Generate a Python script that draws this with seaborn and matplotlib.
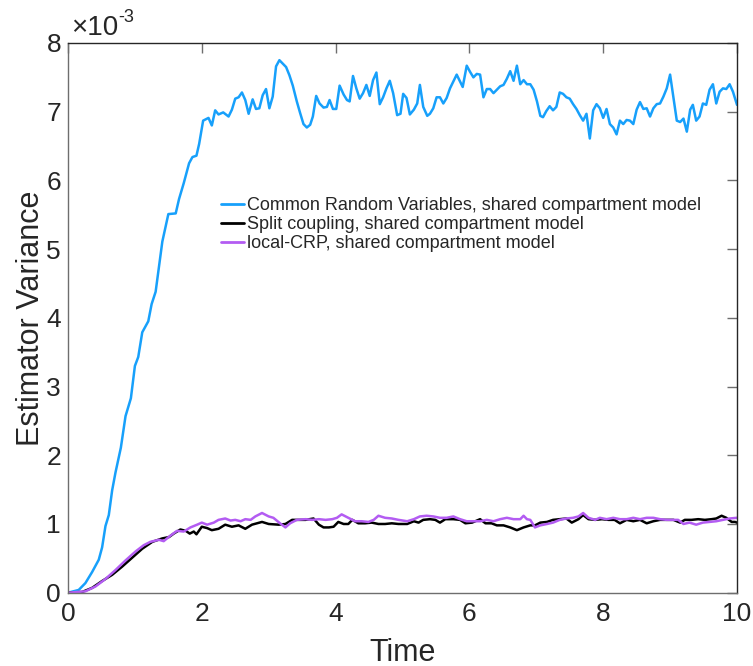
import matplotlib
matplotlib.use("Agg")
import matplotlib.pyplot as plt
import seaborn as sns
import numpy as np
import pandas as pd

# ---------------- data (variance in units of 1e-3) ----------------
t_crv = [0.00, 0.16, 0.26, 0.36, 0.46, 0.51, 0.56, 0.61, 0.66, 0.71, 0.79, 0.86, 0.94,
         1.00, 1.05, 1.11, 1.20, 1.25, 1.31, 1.41, 1.50, 1.61, 1.66, 1.73, 1.81, 1.86,
         1.92, 1.96, 2.02, 2.10, 2.15, 2.20, 2.25, 2.32, 2.40, 2.45, 2.50, 2.55, 2.60,
         2.65, 2.70, 2.76, 2.81, 2.86, 2.91, 2.96, 3.01, 3.06, 3.11, 3.16, 3.21, 3.26,
         3.31, 3.36, 3.42, 3.47, 3.52, 3.57, 3.62, 3.66, 3.71, 3.76, 3.82, 3.87, 3.91,
         3.96, 4.01, 4.06, 4.12, 4.17, 4.21, 4.26, 4.31, 4.36, 4.41, 4.46, 4.51, 4.56,
         4.61, 4.66, 4.71, 4.76, 4.81, 4.86, 4.92, 4.97, 5.01, 5.06, 5.11, 5.17, 5.22,
         5.26, 5.31, 5.37, 5.41, 5.46, 5.51, 5.56, 5.61, 5.66, 5.71, 5.76, 5.81, 5.86,
         5.90, 5.96, 6.01, 6.06, 6.11, 6.16, 6.21, 6.26, 6.31, 6.36, 6.41, 6.46, 6.51,
         6.56, 6.61, 6.66, 6.71, 6.76, 6.81, 6.86, 6.91, 6.96, 7.01, 7.06, 7.10, 7.15,
         7.20, 7.25, 7.30, 7.35, 7.40, 7.45, 7.50, 7.55, 7.60, 7.65, 7.70, 7.75, 7.80,
         7.85, 7.90, 7.95, 8.00, 8.05, 8.10, 8.15, 8.20, 8.25, 8.30, 8.35, 8.40, 8.45,
         8.50, 8.55, 8.60, 8.65, 8.70, 8.75, 8.80, 8.85, 8.90, 8.95, 9.00, 9.05, 9.10,
         9.15, 9.20, 9.25, 9.30, 9.34, 9.39, 9.44, 9.49, 9.54, 9.59, 9.64, 9.69, 9.74,
         9.79, 9.84, 9.89, 9.94, 9.99, 10.00]
var_crv = [0.00, 0.04, 0.14, 0.30, 0.48, 0.66, 0.97, 1.13, 1.49, 1.75, 2.11, 2.57, 2.83,
           3.30, 3.43, 3.79, 3.95, 4.20, 4.38, 5.11, 5.51, 5.52, 5.73, 5.96, 6.25, 6.34,
           6.36, 6.53, 6.87, 6.91, 6.80, 7.02, 6.96, 6.99, 6.93, 7.03, 7.19, 7.21, 7.28,
           7.17, 6.97, 7.18, 7.04, 7.05, 7.24, 7.33, 7.05, 7.22, 7.66, 7.75, 7.70, 7.65,
           7.53, 7.38, 7.15, 6.98, 6.82, 6.77, 6.81, 6.93, 7.23, 7.12, 7.06, 7.07, 7.17,
           7.04, 7.04, 7.38, 7.25, 7.17, 7.15, 7.52, 7.34, 7.19, 7.27, 7.39, 7.23, 7.46,
           7.57, 7.11, 7.21, 7.34, 7.45, 7.27, 6.95, 6.97, 7.26, 7.20, 6.96, 7.03, 7.12,
           7.39, 7.07, 6.94, 6.97, 7.05, 7.21, 7.21, 7.12, 7.20, 7.34, 7.44, 7.54, 7.44,
           7.36, 7.67, 7.58, 7.50, 7.55, 7.54, 7.21, 7.33, 7.33, 7.27, 7.32, 7.37, 7.39,
           7.48, 7.59, 7.45, 7.67, 7.40, 7.46, 7.40, 7.40, 7.32, 7.15, 6.94, 6.92, 7.01,
           7.08, 7.02, 7.07, 7.28, 7.26, 7.21, 7.19, 7.11, 7.04, 6.95, 6.87, 6.97, 6.61,
           7.02, 7.11, 7.05, 6.91, 7.04, 6.82, 6.77, 6.67, 6.87, 6.82, 6.88, 6.87, 6.82,
           7.03, 7.14, 7.04, 7.05, 6.93, 7.05, 7.11, 7.12, 7.22, 7.34, 7.54, 7.20, 6.87,
           6.85, 6.90, 6.71, 7.03, 7.10, 6.87, 6.93, 7.12, 7.10, 7.32, 7.40, 7.12, 7.29,
           7.34, 7.33, 7.40, 7.29, 7.13, 7.10]

t_split = [0.00, 0.21, 0.36, 0.51, 0.66, 0.81, 0.96, 1.11, 1.26, 1.41, 1.51, 1.58, 1.68,
           1.76, 1.82, 1.88, 1.92, 2.00, 2.08, 2.15, 2.25, 2.35, 2.45, 2.55, 2.65, 2.75,
           2.90, 3.00, 3.15, 3.25, 3.35, 3.45, 3.55, 3.67, 3.75, 3.82, 3.90, 3.97, 4.04,
           4.12, 4.19, 4.25, 4.34, 4.44, 4.54, 4.64, 4.74, 4.84, 4.94, 5.07, 5.17, 5.24,
           5.31, 5.41, 5.49, 5.56, 5.64, 5.76, 5.86, 5.94, 6.04, 6.16, 6.24, 6.33, 6.41,
           6.51, 6.61, 6.71, 6.81, 6.91, 6.98, 7.06, 7.16, 7.25, 7.35, 7.45, 7.53, 7.63,
           7.70, 7.78, 7.88, 7.98, 8.08, 8.17, 8.25, 8.35, 8.45, 8.55, 8.65, 8.75, 8.85,
           8.95, 9.05, 9.15, 9.22, 9.32, 9.42, 9.52, 9.62, 9.69, 9.77, 9.84, 9.92, 9.97,
           10.00]
var_split = [0.00, 0.01, 0.07, 0.17, 0.26, 0.38, 0.51, 0.64, 0.74, 0.79, 0.81, 0.86, 0.92,
             0.90, 0.86, 0.89, 0.85, 0.96, 0.94, 0.91, 0.93, 0.99, 0.96, 0.98, 0.93, 0.99,
             1.03, 1.00, 0.99, 1.00, 1.06, 1.06, 1.06, 1.08, 0.99, 0.95, 0.95, 0.96, 1.03,
             1.00, 1.00, 1.06, 1.01, 1.01, 1.02, 1.00, 1.00, 1.01, 1.00, 1.00, 1.04, 1.02,
             1.06, 1.07, 1.06, 1.02, 1.07, 1.07, 1.06, 1.01, 1.02, 1.07, 1.01, 1.01, 0.98,
             0.98, 0.95, 0.91, 0.95, 0.98, 0.98, 1.02, 1.03, 1.06, 1.07, 1.08, 1.02, 1.07,
             1.13, 1.07, 1.06, 1.07, 1.06, 1.06, 1.01, 1.06, 1.04, 1.06, 1.01, 1.04, 1.06,
             1.06, 1.06, 1.02, 1.06, 1.06, 1.07, 1.06, 1.07, 1.08, 1.12, 1.09, 1.03, 1.03,
             1.02]

t_lcrp = [0.00, 0.26, 0.41, 0.56, 0.71, 0.86, 1.01, 1.13, 1.23, 1.36, 1.43, 1.53, 1.63,
          1.73, 1.83, 1.93, 2.00, 2.08, 2.18, 2.25, 2.35, 2.43, 2.50, 2.58, 2.65, 2.73,
          2.80, 2.90, 3.00, 3.07, 3.17, 3.25, 3.32, 3.42, 3.55, 3.65, 3.75, 3.85, 3.95,
          4.02, 4.09, 4.19, 4.29, 4.39, 4.49, 4.57, 4.64, 4.74, 4.84, 4.94, 5.07, 5.17,
          5.26, 5.36, 5.46, 5.56, 5.66, 5.76, 5.86, 5.96, 6.06, 6.16, 6.26, 6.36, 6.46,
          6.56, 6.66, 6.76, 6.81, 6.86, 6.91, 6.98, 7.06, 7.16, 7.25, 7.35, 7.45, 7.55,
          7.63, 7.70, 7.78, 7.88, 7.95, 8.05, 8.15, 8.25, 8.35, 8.45, 8.55, 8.65, 8.75,
          8.85, 8.95, 9.05, 9.12, 9.20, 9.29, 9.39, 9.49, 9.59, 9.69, 9.79, 9.89, 10.00]
var_lcrp = [0.00, 0.02, 0.09, 0.20, 0.33, 0.47, 0.60, 0.69, 0.74, 0.77, 0.75, 0.83, 0.90,
            0.89, 0.95, 0.99, 1.02, 0.99, 1.02, 1.06, 1.08, 1.05, 1.06, 1.04, 1.07, 1.06,
            1.11, 1.16, 1.11, 1.09, 1.01, 0.95, 1.01, 1.06, 1.07, 1.06, 1.07, 1.06, 1.07,
            1.09, 1.14, 1.09, 1.04, 1.04, 1.03, 1.06, 1.12, 1.09, 1.08, 1.06, 1.04, 1.07,
            1.11, 1.12, 1.11, 1.09, 1.09, 1.11, 1.07, 1.04, 1.04, 1.04, 1.06, 1.04, 1.07,
            1.09, 1.07, 1.07, 1.12, 1.07, 1.06, 0.95, 0.98, 1.00, 1.02, 1.06, 1.08, 1.09,
            1.11, 1.16, 1.09, 1.06, 1.09, 1.07, 1.09, 1.07, 1.07, 1.09, 1.07, 1.09, 1.09,
            1.07, 1.06, 1.06, 1.06, 1.00, 1.02, 0.99, 1.02, 1.03, 1.04, 1.06, 1.08, 1.09]

labels = ["Common Random Variables, shared compartment model",
          "Split coupling, shared compartment model",
          "local-CRP, shared compartment model"]
colors = ["#17a0fb", "#000000", "#b35cf2"]
x_ticks = [0, 2, 4, 6, 8, 10]
y_ticks = [0, 1, 2, 3, 4, 5, 6, 7, 8]

# ---------------- style ----------------
sns.set_style("white")
plt.rcParams['font.family'] = ['Liberation Sans', 'DejaVu Sans']

fig = plt.figure(figsize=(7.53, 6.66), dpi=100)
ax = fig.add_axes([68/753, 1 - 592.7/666, (737 - 68)/753, (592.7 - 43)/666])

series = [(t_crv, var_crv), (t_split, var_split), (t_lcrp, var_lcrp)]
for (tt, vv), lab, col in zip(series, labels, colors):
    df = pd.DataFrame({"Time": tt, "Var": vv})
    sns.lineplot(data=df, x="Time", y="Var", ax=ax, color=col, lw=1.8,
                 label=lab, estimator=None, sort=False)

ax.set_xlim(0, 10)
ax.set_ylim(0, 8)
ax.set_xticks(x_ticks)
ax.set_yticks(y_ticks)
ax.set_xticklabels([str(v) for v in x_ticks])
ax.set_yticklabels([str(v) for v in y_ticks])

for side in ["left", "bottom"]:
    ax.spines[side].set_color("#6e6e6e")
for side in ["top", "right"]:
    ax.spines[side].set_color("#262626")
for s in ax.spines.values():
    s.set_linewidth(1.0)
    s.set_visible(True)

ax.tick_params(direction="in", length=7, width=1.0, color="#6e6e6e",
               labelsize=19, labelcolor="#262626", top=True, right=True)
ax.tick_params(axis="x", pad=7)
ax.tick_params(axis="y", pad=5)

ax.set_xlabel("Time", fontsize=22, color="#262626", labelpad=8)
ax.set_ylabel("Estimator Variance", fontsize=22, color="#262626", labelpad=0)

# exponent label
fig.text(71/753, 1 - 35/666, "\u00d710", fontsize=20, color="#262626",
         ha="left", va="baseline")
fig.text(118/753, 1 - 22/666, "-3", fontsize=13, color="#262626",
         ha="left", va="baseline")

leg = ax.legend(loc="upper left", bbox_to_anchor=(221/753, 1 - 197/666),
                bbox_transform=fig.transFigure, frameon=False, fontsize=13,
                handlelength=1.25, handletextpad=0.2, labelspacing=0.12,
                borderpad=0, borderaxespad=0)
for line in leg.get_lines():
    line.set_linewidth(2.0)

fig.savefig("out.png", dpi=100)
